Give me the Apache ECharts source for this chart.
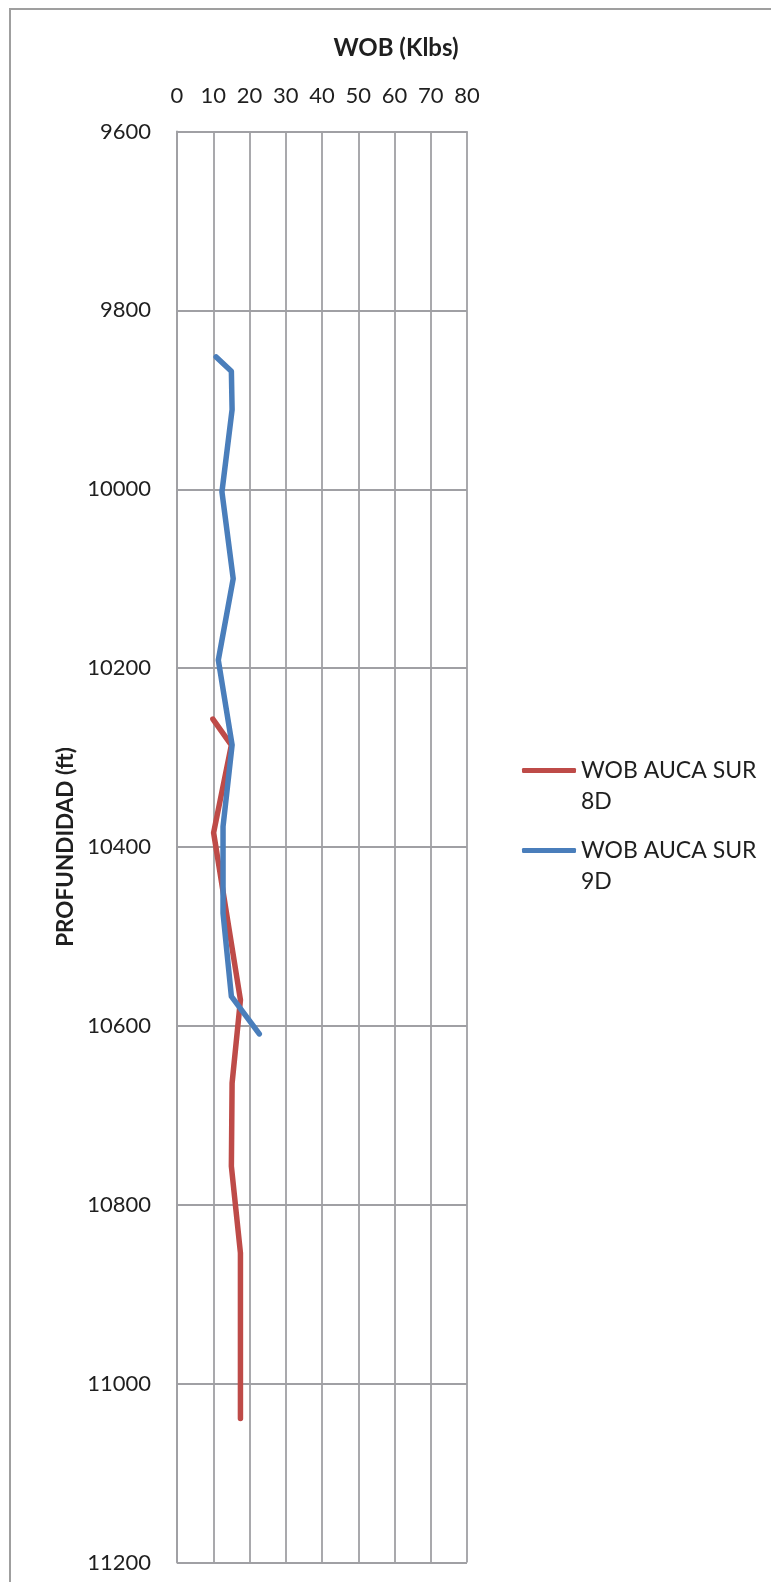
<!DOCTYPE html>
<html>
<head>
<meta charset="utf-8">
<title>WOB vs Profundidad</title>
<script src="https://cdn.jsdelivr.net/npm/echarts@6/dist/echarts.min.js"></script>
<style>
  html, body { margin: 0; padding: 0; background: #ffffff; }
  #chart { width: 771px; height: 1582px; }
</style>
</head>
<body>
<div id="chart"></div>
<script>
// Depth (ft) and weight on bit (Klbs) for each well
const depth8 = [10257, 10286, 10384, 10571, 10664, 10757, 10854, 11039];
const wob8   = [9.9, 15.0, 10.1, 17.5, 15.2, 15.0, 17.5, 17.5];

const depth9 = [9852, 9868, 9911, 10003, 10100, 10191, 10286, 10377, 10474, 10567, 10609];
const wob9   = [10.8, 15.0, 15.2, 12.4, 15.5, 11.4, 15.2, 12.7, 12.7, 15.0, 22.7];

const seriesNames = ['WOB AUCA SUR 8D', 'WOB AUCA SUR 9D'];
const xTicks = { min: 0, max: 80, interval: 10 };
const yTicks = { min: 9600, max: 11200, interval: 200 };

const FONT = 'Lato, "Open Sans", sans-serif';
const TEXT = '#1f1f1f';
const GRID = '#a0a0a4';
const COLORS = ['#be4b48', '#4a7ebb'];

const toPairs = (xs, ys) => xs.map((x, i) => [x, ys[i]]);

// Legend labels break before the last word; an empty leading line keeps
// the first text line level with the swatch.
function legendFor(name, top) {
  return {
    data: [name],
    orient: 'vertical',
    left: 517,
    top: top,
    icon: 'roundRect',
    itemWidth: 54,
    itemHeight: 5,
    formatter: n => {
      const k = n.lastIndexOf(' ');
      return ' \n' + n.slice(0, k) + '\n' + n.slice(k + 1);
    },
    textStyle: {
      fontFamily: FONT,
      fontSize: 23,
      color: TEXT,
      lineHeight: 31
    }
  };
}

const chart = echarts.init(document.getElementById('chart'), null, { renderer: 'canvas' });

chart.setOption({
  backgroundColor: '#ffffff',
  animation: false,
  graphic: [{
    type: 'rect',
    shape: { x: 10, y: 9, width: 800, height: 1620 },
    style: { fill: 'none', stroke: '#9f9f9f', lineWidth: 2 },
    silent: true
  }],
  grid: { left: 177, top: 131.5, width: 290, height: 1431, containLabel: false },
  legend: [
    legendFor(seriesNames[0], 719),
    legendFor(seriesNames[1], 799)
  ],
  xAxis: {
    type: 'value',
    position: 'top',
    min: xTicks.min, max: xTicks.max, interval: xTicks.interval,
    name: 'WOB (Klbs)',
    nameLocation: 'middle',
    nameGap: 71,
    nameTextStyle: {
      fontFamily: FONT, fontSize: 24, fontWeight: 'bold', color: TEXT,
      padding: [0, 0, 0, 148]
    },
    axisLine: { show: true, lineStyle: { color: GRID, width: 1.8 } },
    axisTick: { show: false },
    axisLabel: { fontFamily: FONT, fontSize: 22, color: TEXT, margin: 25 },
    splitLine: { show: true, lineStyle: { color: GRID, width: 1.8 } }
  },
  yAxis: {
    type: 'value',
    inverse: true,
    min: yTicks.min, max: yTicks.max, interval: yTicks.interval,
    name: 'PROFUNDIDAD (ft)',
    nameLocation: 'middle',
    nameRotate: 90,
    nameGap: 100,
    nameTextStyle: { fontFamily: FONT, fontSize: 22.5, fontWeight: 'bold', color: TEXT },
    axisLine: { show: true, lineStyle: { color: GRID, width: 1.8 } },
    axisTick: { show: false },
    axisLabel: {
      fontFamily: FONT, fontSize: 22, color: TEXT, margin: 26,
      formatter: v => String(v)
    },
    splitLine: { show: true, lineStyle: { color: GRID, width: 1.8 } }
  },
  series: [
    {
      name: seriesNames[0],
      type: 'line',
      data: toPairs(wob8, depth8),
      symbol: 'none',
      showSymbol: false,
      itemStyle: { color: COLORS[0] },
      lineStyle: { width: 5.5, color: COLORS[0], cap: 'round', join: 'round' }
    },
    {
      name: seriesNames[1],
      type: 'line',
      data: toPairs(wob9, depth9),
      symbol: 'none',
      showSymbol: false,
      itemStyle: { color: COLORS[1] },
      lineStyle: { width: 5.5, color: COLORS[1], cap: 'round', join: 'round' }
    }
  ]
});
</script>
</body>
</html>
